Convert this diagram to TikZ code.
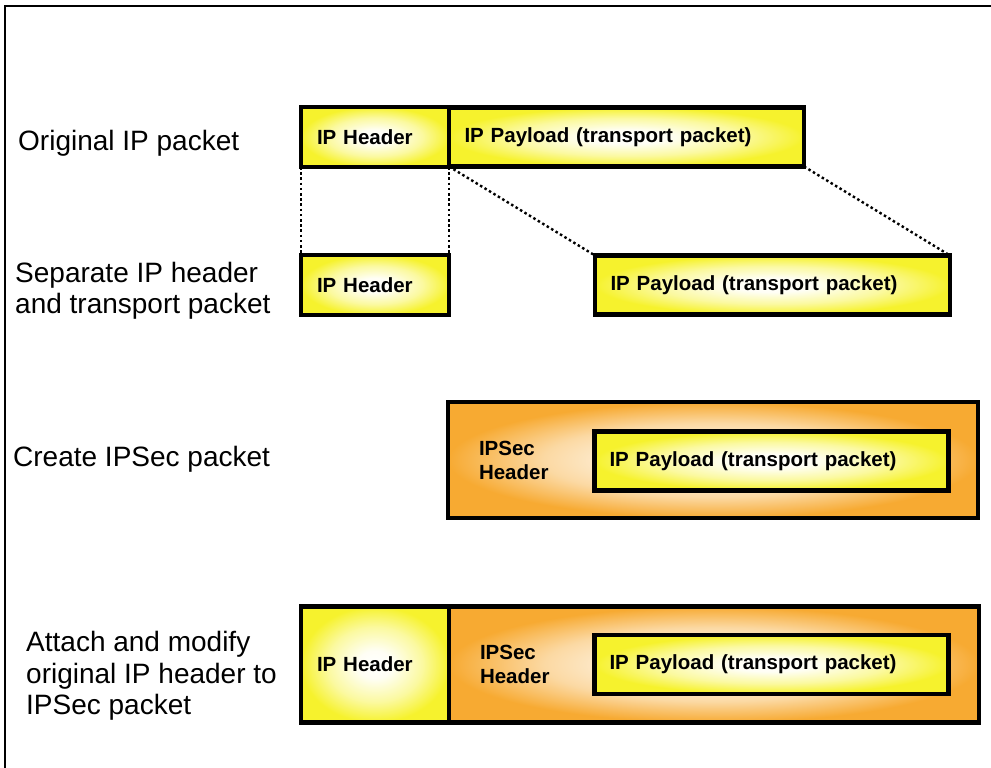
\documentclass[tikz,border=0pt]{standalone}
\usepackage{fontspec}
\setmainfont{Liberation Sans}
\usetikzlibrary{positioning}
\definecolor{pktyellow}{RGB}{246,242,45}
\definecolor{pktorange}{RGB}{247,170,50}
\pgfdeclareradialshading{yellowglow}{\pgfpoint{0bp}{0bp}}{color(0bp)=(white);
	color(6bp)=(white!95!pktyellow); color(16bp)=(white!55!pktyellow);
	color(25bp)=(pktyellow); color(50bp)=(pktyellow)}
\pgfdeclareradialshading{orangeglow}{\pgfpoint{0bp}{0bp}}{color(0bp)=(white!97!pktorange);
	color(6bp)=(white!90!pktorange); color(16bp)=(white!55!pktorange);
	color(25bp)=(pktorange); color(50bp)=(pktorange)}
\tikzstyle{packet}=[draw, line width=4.5pt, outer sep=0pt, inner ysep=0pt,
	align=left, font=\bfseries\fontsize{20.5}{24}\selectfont]
\tikzstyle{header}=[packet, shading=yellowglow, minimum width=148pt,
	text width=116pt, inner xsep=16pt, minimum height=60pt]
\tikzstyle{payload}=[packet, shading=yellowglow, minimum width=354pt,
	text width=324pt, inner xsep=15pt, minimum height=59pt]
\tikzstyle{ipsec}=[packet, shading=orangeglow, minimum width=530pt,
	text width=468pt, inner xsep=31pt, minimum height=116pt]
\tikzstyle{texto}=[anchor=west, inner sep=0pt, align=left,
	font=\fontsize{28}{31.5}\selectfont]
\tikzstyle{line}=[draw, line width=2.4pt, dash pattern=on 2.5pt off 2.7pt]

\begin{document}
\begin{tikzpicture}[x=1pt,y=-1pt]
	\useasboundingbox (0,0) rectangle (991,768);
	\draw[line width=2pt] (4.5,768) -- (4.5,6.5) -- (991,6.5);

	% Packets
	\node[header] (h1) at (375,137) {IP Header};
	\node[payload, right=0pt of h1, minimum width=355pt] (p1) {IP Payload (transport packet)};

	\node[header] (h2) at (375,285) {IP Header};
	\node[payload, minimum width=355pt] (p2) at (772.5,285) {IP Payload (transport packet)};

	\node[ipsec] (s3) at (713,460) {IPSec\\Header};
	\node[payload] (p3) at (771.5,461) {IP Payload (transport packet)};

	\node[header, minimum height=116pt] (h4) at (375,664.5) {IP Header};
	\node[ipsec, right=0pt of h4] (s4) {IPSec\\Header};
	\node[payload] (p4) at (771.5,664.5) {IP Payload (transport packet)};

	% Draw dotted lines between elements
	\path [line] (h1.south west) -- (h2.north west);
	\path [line] (h1.south east) -- (h2.north east);
	\path [line] (p1.south west) -- (p2.north west);
	\path [line] (p1.south east) -- (p2.north east);

	% Step labels
	\node[texto] (l1) at (18,143) {Original IP packet};
	\node[texto] (l2) at (15,291) {Separate IP header\\and transport packet};
	\node[texto] (l3) at (13,459) {Create IPSec packet};
	\node[texto] (l4) at (26,676) {Attach and modify\\original IP header to\\IPSec packet};

\end{tikzpicture}
\end{document}
